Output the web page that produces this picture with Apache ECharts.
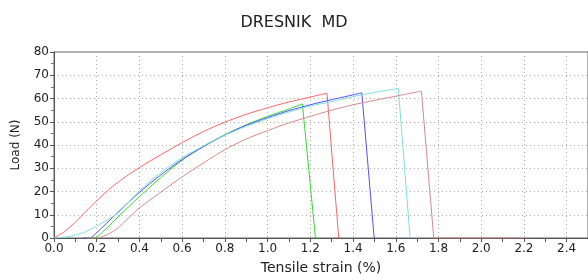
<!DOCTYPE html>
<html>
<head>
<meta charset="utf-8">
<script src="https://cdn.jsdelivr.net/npm/echarts@6/dist/echarts.min.js"></script>
<style>
  html, body { margin: 0; padding: 0; background: #fff; }
  #chart { width: 588px; height: 280px; }
</style>
</head>
<body>
<div id="chart"></div>
<script>
// one strain/load pair of arrays per specimen (strain in %, load in N)
const redStrain = [0, 0.05, 0.1, 0.15, 0.2, 0.25, 0.3, 0.35, 0.4, 0.5, 0.6, 0.7, 0.8, 0.9, 1.0, 1.1, 1.2, 1.278, 1.333, 1.345]
const redLoad = [0, 2.8, 6.8, 11.5, 16, 20.3, 24, 27.3, 30.3, 35.8, 41, 45.8, 49.8, 53.2, 56, 58.5, 60.6, 62.3, 0, 0]

const greenStrain = [0.15, 0.186, 0.25, 0.295, 0.4, 0.495, 0.6, 0.7, 0.8, 0.9, 1.0, 1.1, 1.163, 1.224, 1.244]
const greenLoad = [0, 0, 4.5, 8.6, 17.8, 25.6, 33.5, 39.5, 44.4, 48.7, 52.3, 55.5, 57.7, 0, 0]

const blueStrain = [0.14, 0.167, 0.2, 0.295, 0.4, 0.495, 0.6, 0.7, 0.8, 0.9, 1.0, 1.1, 1.2, 1.3, 1.441, 1.499]
const blueLoad = [0, 0, 2.3, 10.7, 19.6, 26.8, 33.8, 39.3, 44.3, 48.5, 51.8, 54.8, 57.3, 59.5, 62.4, 0]

const cyanStrain = [0, 0.06, 0.1, 0.14, 0.2, 0.295, 0.4, 0.495, 0.6, 0.7, 0.8, 0.9, 1.0, 1.1, 1.2, 1.3, 1.4, 1.5, 1.612, 1.667]
const cyanLoad = [0, 0.5, 1.3, 2.3, 5.2, 10.5, 20.3, 27.8, 34.5, 39.6, 44.2, 48, 51.3, 54.2, 56.8, 58.6, 60.8, 62.6, 64.3, 0]

const brownStrain = [0.15, 0.2, 0.25, 0.295, 0.4, 0.495, 0.6, 0.7, 0.8, 0.9, 1.0, 1.1, 1.2, 1.3, 1.4, 1.5, 1.6, 1.72, 1.778, 2.2]
const brownLoad = [0, 0, 1.5, 4, 12.9, 19.4, 26.3, 32.3, 38, 42.6, 46.2, 49.5, 52.3, 55, 57.3, 59.2, 61, 63.2, 0, 0]

const xTicks = ['0.0', '0.2', '0.4', '0.6', '0.8', '1.0', '1.2', '1.4', '1.6', '1.8', '2.0', '2.2', '2.4']

const font = 'DejaVu Sans'

function pairs(xs, ys) {
  return xs.map((x, i) => [x, ys[i]])
}

// rising part drawn smooth, the break after the peak drawn straight
function curve(name, xs, ys, color) {
  const pts = pairs(xs, ys)
  const peak = ys.indexOf(Math.max(...ys))
  const base = {
    name,
    type: 'line',
    showSymbol: false,
    lineStyle: { width: 1, color },
    itemStyle: { color },
    animation: false
  }
  return [
    { ...base, data: pts.slice(0, peak + 1), smooth: 0.25 },
    { ...base, data: pts.slice(peak) }
  ]
}

const chart = echarts.init(document.getElementById('chart'), null, { renderer: 'canvas' })

chart.setOption({
  backgroundColor: '#fff',
  animation: false,
  title: {
    text: 'DRESNIK  MD',
    left: 'center',
    top: 10,
    textStyle: { fontFamily: font, fontSize: 16, fontWeight: 'normal', color: '#222' }
  },
  grid: { left: 54, right: 0, top: 52, bottom: 38, show: true, borderColor: '#666', borderWidth: 1 },
  xAxis: {
    type: 'value',
    min: 0,
    max: 2.5,
    interval: 0.2,
    name: 'Tensile strain (%)',
    nameLocation: 'middle',
    nameGap: 23,
    nameTextStyle: { fontFamily: font, fontSize: 14, color: '#222' },
    axisLine: { lineStyle: { color: '#555' } },
    axisTick: { length: 4, lineStyle: { color: '#555' } },
    minorTick: { show: true, splitNumber: 2, length: 4, lineStyle: { color: '#555' } },
    axisLabel: {
      fontFamily: font,
      fontSize: 12,
      color: '#222',
      margin: 5,
      showMaxLabel: false,
      formatter: (v) => xTicks[Math.round(v / 0.2)] || ''
    },
    splitLine: { show: true, lineStyle: { color: '#aaa', type: [1, 3] } }
  },
  yAxis: {
    type: 'value',
    min: 0,
    max: 80,
    interval: 10,
    name: 'Load (N)',
    nameLocation: 'middle',
    nameGap: 32,
    nameTextStyle: { fontFamily: font, fontSize: 12, color: '#222' },
    axisLine: { show: true, lineStyle: { color: '#555' } },
    axisTick: { show: true, length: 4, lineStyle: { color: '#555' } },
    minorTick: { show: true, splitNumber: 2, length: 3, lineStyle: { color: '#777' } },
    axisLabel: { fontFamily: font, fontSize: 12, color: '#222', margin: 5 },
    splitLine: { show: true, lineStyle: { color: '#aaa', type: [1, 3] } }
  },
  series: [
    ...curve('Specimen 1', redStrain, redLoad, '#ff6464'),
    ...curve('Specimen 2', greenStrain, greenLoad, '#33dd33'),
    ...curve('Specimen 3', blueStrain, blueLoad, '#5050ff'),
    ...curve('Specimen 4', cyanStrain, cyanLoad, '#7fdede'),
    ...curve('Specimen 5', brownStrain, brownLoad, '#d48a8a')
  ]
})
</script>
</body>
</html>
